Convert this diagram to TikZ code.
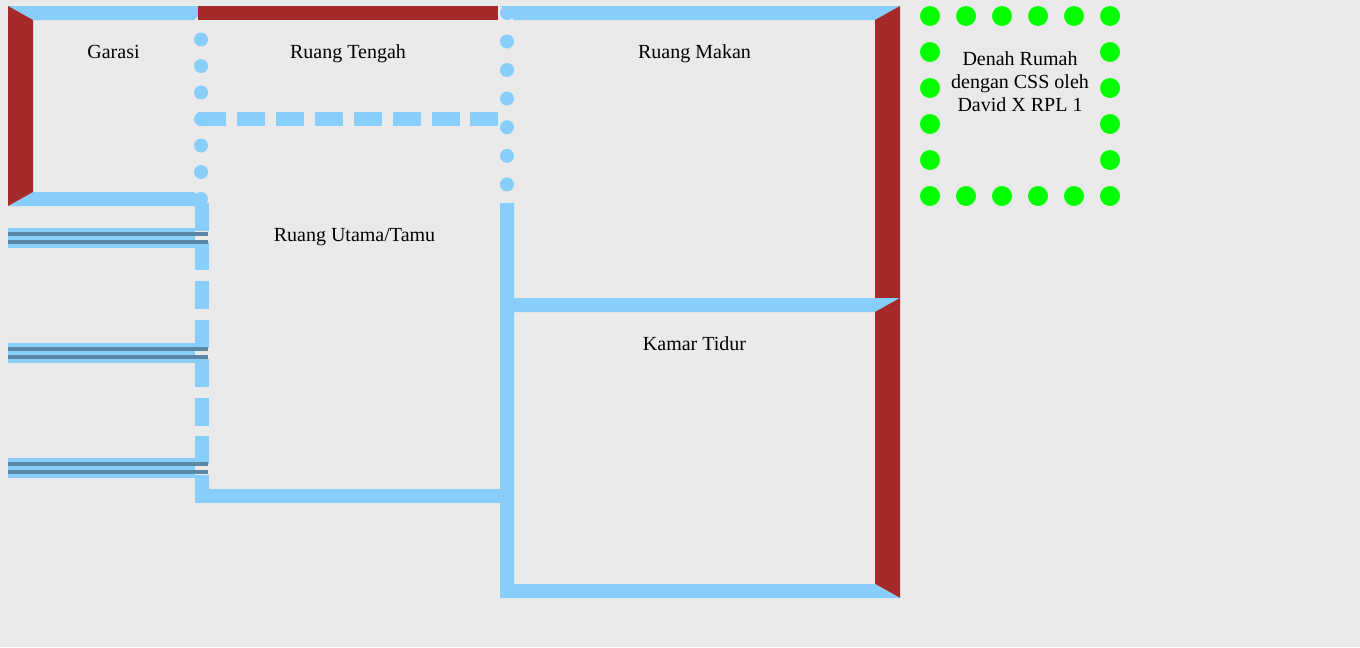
\documentclass[tikz,border=0pt]{standalone}
\usepackage{fontspec}
\setmainfont{Liberation Serif}
\definecolor{wallblue}{HTML}{87CEFA}
\definecolor{wallbrown}{HTML}{A52A2A}
\definecolor{stairline}{HTML}{5B87A6}
\definecolor{floorgrey}{HTML}{EAEAEA}
\definecolor{dotgreen}{HTML}{00FF00}
\tikzset{
	roomlabel/.style={font=\fontsize{15pt}{17.25pt}\selectfont,inner sep=0pt,align=center},
}
\begin{document}
\begin{tikzpicture}[x=0.75pt,y=-0.75pt]
	\fill[floorgrey] (0,0) rectangle (1360,647);
	\useasboundingbox (0,0) rectangle (1360,647);

	\fill[wallblue] (8,6) -- (208,6) -- (194,20) -- (33,20) -- cycle;
	\fill[wallblue] (33,192) -- (194,192) -- (208,206) -- (8,206) -- cycle;
	\fill[wallbrown] (8,6) -- (33,20) -- (33,192) -- (8,206) -- cycle;
	\fill[wallbrown] (198,6) rectangle (498,20);

	\foreach \y in {39.5,66,92.5,119,145.5,172,199}
		\fill[wallblue] (201,\y) circle (7);
	\foreach \y in {13,41.5,70,98.6,127.2,155.8,184.4}
		\fill[wallblue] (507,\y) circle (7);
	\foreach \x in {198,237,276,315,354,393,431.5,470}
		\fill[wallblue] (\x,112) rectangle ++(28,14);

	\fill[wallblue] (500,6) -- (900,6) -- (875,20) -- (514,20) -- cycle;
	\fill[wallbrown] (875,20) -- (900,6) -- (900,298) -- (875,312) -- cycle;
	\fill[wallblue] (514,298) -- (900,298) -- (875,312) -- (514,312) -- cycle;
	\fill[wallbrown] (875,312) -- (900,298) -- (900,598) -- (875,584) -- cycle;
	\fill[wallblue] (514,584) -- (875,584) -- (900,598) -- (500,598) -- (500,203) -- (514,203) -- cycle;

	\foreach \y in {228,343,458} {
		\fill[wallblue] (8,\y) rectangle (195,\y+20);
	}
	\foreach \y in {203,242,281,320,359,398,436,475}
		\fill[wallblue] (195,\y) rectangle ++(14,28);
	\fill[wallblue] (195,489) rectangle (500,503);
	\foreach \y in {228,343,458} {
		\fill[stairline] (8,\y+4) rectangle (208,\y+8);
		\fill[stairline] (8,\y+12) rectangle (208,\y+16);
	}

	\foreach \x in {930,966,1002,1038,1074,1110} {
		\fill[dotgreen] (\x,16) circle (10);
		\fill[dotgreen] (\x,196) circle (10);
	}
	\foreach \y in {52,88,124,160} {
		\fill[dotgreen] (930,\y) circle (10);
		\fill[dotgreen] (1110,\y) circle (10);
	}

	\node[roomlabel,anchor=base] (garasi) at (113.5,58) {Garasi};
	\node[roomlabel,anchor=base] (tengah) at (348,58) {Ruang Tengah};
	\node[roomlabel,anchor=base] (makan) at (694.5,58) {Ruang Makan};
	\node[roomlabel,anchor=base] (utama) at (354.5,241) {Ruang Utama/Tamu};
	\node[roomlabel,anchor=base] (kamar) at (694.5,350) {Kamar Tidur};
	\node[roomlabel] (judul) at (1020,81.5) {Denah Rumah\\dengan CSS oleh\\David X RPL 1};
\end{tikzpicture}
\end{document}
